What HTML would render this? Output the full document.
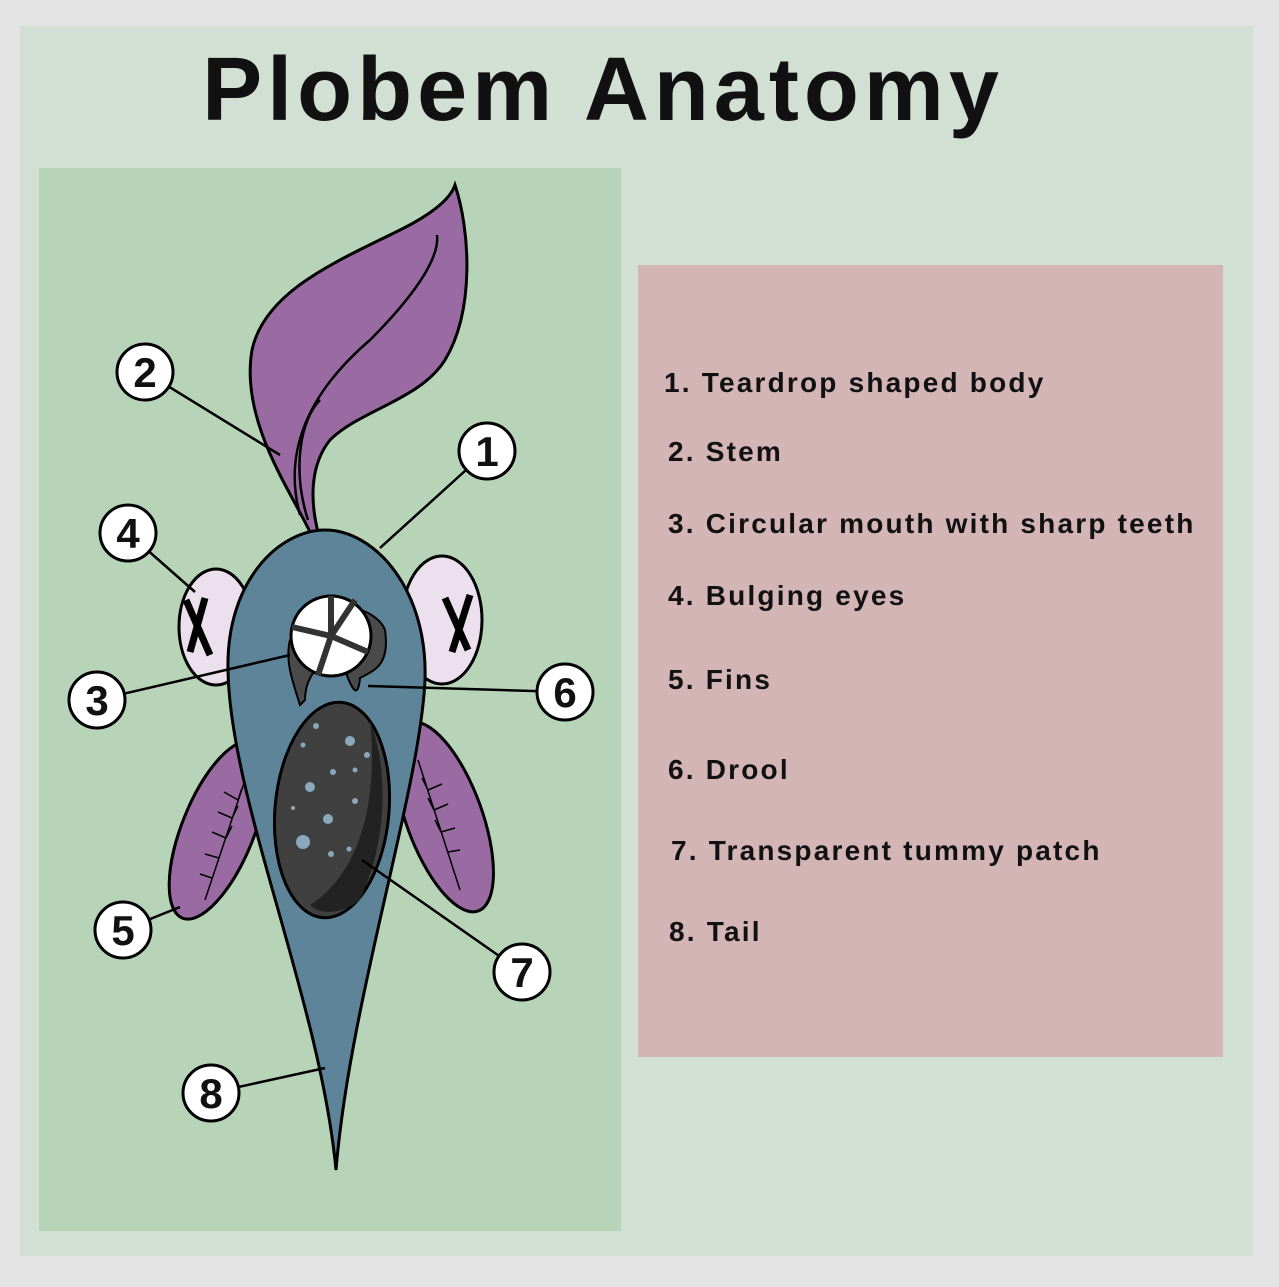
<!DOCTYPE html>
<html><head><meta charset="utf-8"><style>
body{margin:0;width:1279px;height:1282px;background:#e3e3e3;overflow:hidden;font-family:"Liberation Sans",sans-serif;}
.t{font-weight:bold;fill:#111;}
</style></head><body>
<svg width="1279" height="1282" viewBox="0 0 1279 1282" xmlns="http://www.w3.org/2000/svg">
<rect x="20" y="26" width="1233" height="1230" fill="#d1e0d3"/>
<rect x="39" y="168" width="582" height="1063" fill="#b8d4b8"/>
<rect x="638" y="265" width="585" height="792" fill="#d4b5b6"/>
<text x="603" y="120" text-anchor="middle" font-size="90" class="t" letter-spacing="5" font-family="Liberation Sans, sans-serif">Plobem Anatomy</text>
<g font-size="28" class="t" letter-spacing="2.2">
<text x="664" y="392">1. Teardrop shaped body</text>
<text x="668" y="461">2. Stem</text>
<text x="668" y="533">3. Circular mouth with sharp teeth</text>
<text x="668" y="605">4. Bulging eyes</text>
<text x="668" y="689">5. Fins</text>
<text x="668" y="779">6. Drool</text>
<text x="671" y="860">7. Transparent tummy patch</text>
<text x="669" y="941">8. Tail</text>
</g>
<g stroke="#000" stroke-width="3">
<path d="M310 532 C290 490,240 420,252 350 C265 290,340 260,400 230 C430 215,450 200,455 185 C470 230,475 310,445 360 C420 400,360 410,330 440 C310 465,310 500,318 532 Z" fill="#9a6ba2"/>
<path d="M300 515 C285 460,300 400,370 340 C410 300,440 260,437 235" fill="none" stroke-width="2.5"/>
<path d="M308 520 C292 470,300 420,320 400" fill="none" stroke-width="2.5"/>
<ellipse cx="218" cy="830" rx="36" ry="95" transform="rotate(22 218 830)" fill="#9a6ba2"/>
<ellipse cx="444" cy="817" rx="38" ry="100" transform="rotate(-20 444 817)" fill="#9a6ba2"/>
<path d="M245 780 L205 900 M238 800 l-14 -8 M232 818 l-14 -6 M226 838 l-14 -6 M219 858 l-14 -4 M212 878 l-12 -4 M238 800 l4 -12 M232 818 l6 -12 M226 838 l6 -12" fill="none" stroke-width="1.5"/>
<path d="M418 760 L460 890 M428 790 l14 -6 M434 810 l14 -6 M441 832 l14 -4 M448 852 l12 -2 M428 790 l-6 -12 M434 810 l-6 -12 M441 832 l-6 -12" fill="none" stroke-width="1.5"/>
<ellipse cx="216" cy="627" rx="37" ry="58" fill="#ecdfee"/>
<ellipse cx="442" cy="620" rx="40" ry="64" fill="#ecdfee"/>
<path d="M186 600 L210 655 M205 598 L190 652 M445 598 L468 650 M470 595 L452 652" stroke-width="7" fill="none"/>
<path d="M336 1170 C320 1000,230 800,228 670 C226 580,280 530,325 530 C375 530,428 590,425 680 C420 790,350 1000,336 1170 Z" fill="#5e8499"/>
<path d="M290 640 C285 660,292 680,300 705 L305 700 C305 680,315 670,320 665 L345 670 C352 690,358 700,360 678 C375 670,390 665,385 630 C380 615,350 600,330 610 Z" fill="#4a4a4a" stroke-width="2"/>
<circle cx="331" cy="636" r="40" fill="#fff"/>
<path d="M331 596 L331 636 L292 627 M331 636 L355 600 M331 636 L368 652 M331 636 L318 675" stroke="#333" stroke-width="6" fill="none"/>
<ellipse cx="332" cy="810" rx="57" ry="108" transform="rotate(5 332 810)" fill="#404040"/>
</g>
<path d="M370 720 C385 760,392 830,360 900 C340 915,320 915,310 905 C350 880,380 820,370 720 Z" fill="#222"/>
<g fill="#8aa8bc">
<circle cx="316" cy="726" r="3"/><circle cx="350" cy="741" r="5"/><circle cx="303" cy="745" r="2.5"/><circle cx="367" cy="755" r="3"/><circle cx="333" cy="772" r="3"/><circle cx="355" cy="770" r="2.5"/><circle cx="310" cy="787" r="5"/><circle cx="355" cy="801" r="3"/><circle cx="293" cy="808" r="2"/><circle cx="328" cy="819" r="5"/><circle cx="303" cy="842" r="7"/><circle cx="349" cy="849" r="2.5"/><circle cx="331" cy="854" r="3"/>
</g>
<g stroke="#000" stroke-width="2.5">
<line x1="487" y1="451" x2="380" y2="548"/>
<line x1="145" y1="372" x2="280" y2="455"/>
<line x1="97" y1="700" x2="290" y2="655"/>
<line x1="128" y1="533" x2="195" y2="592"/>
<line x1="123" y1="930" x2="180" y2="907"/>
<line x1="565" y1="692" x2="368" y2="686"/>
<line x1="522" y1="972" x2="362" y2="860"/>
<line x1="211" y1="1093" x2="325" y2="1068"/>
</g>
<g stroke="#000" stroke-width="3" fill="#fff">
<circle cx="487" cy="451" r="28"/><circle cx="145" cy="372" r="28"/><circle cx="97" cy="700" r="28"/><circle cx="128" cy="533" r="28"/><circle cx="123" cy="930" r="28"/><circle cx="565" cy="692" r="28"/><circle cx="522" cy="972" r="28"/><circle cx="211" cy="1093" r="28"/>
</g>
<g font-size="42" text-anchor="middle" class="t" fill="#111">
<text x="487" y="466">1</text><text x="145" y="387">2</text><text x="97" y="715">3</text><text x="128" y="548">4</text><text x="123" y="945">5</text><text x="565" y="707">6</text><text x="522" y="987">7</text><text x="211" y="1108">8</text>
</g>
</svg>
</body></html>
